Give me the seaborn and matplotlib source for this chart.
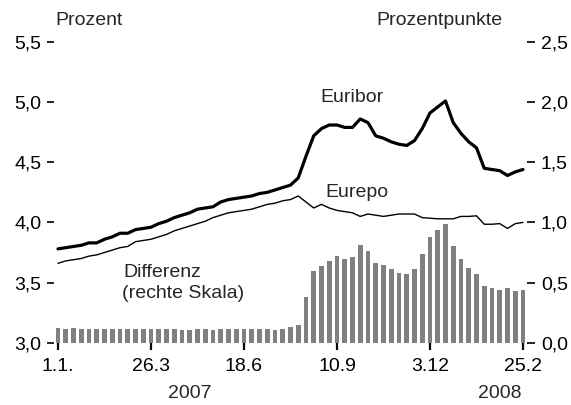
import matplotlib
matplotlib.use("Agg")
import matplotlib.pyplot as plt
import matplotlib.transforms as mtransforms
import pandas as pd
import seaborn as sns

# Weekly observations, 1 Jan 2007 to 25 Feb 2008 (week index 0..60)
weeks = list(range(61))

# Three-month Euribor, percent
euribor = [3.78, 3.79, 3.80, 3.81, 3.83, 3.83, 3.86, 3.88, 3.91, 3.91,
           3.94, 3.95, 3.96, 3.99, 4.01, 4.04, 4.06, 4.08, 4.11, 4.12,
           4.13, 4.17, 4.19, 4.20, 4.21, 4.22, 4.24, 4.25, 4.27, 4.29,
           4.31, 4.37, 4.55, 4.72, 4.78, 4.81, 4.81, 4.79, 4.79, 4.86,
           4.83, 4.72, 4.70, 4.67, 4.65, 4.64, 4.68, 4.78, 4.91, 4.96,
           5.01, 4.83, 4.74, 4.67, 4.62, 4.45, 4.44, 4.43, 4.39, 4.42,
           4.44]

# Three-month Eurepo, percent
eurepo = [3.66, 3.68, 3.69, 3.70, 3.72, 3.73, 3.75, 3.77, 3.79, 3.80,
          3.84, 3.85, 3.86, 3.88, 3.90, 3.93, 3.95, 3.97, 3.99, 4.01,
          4.04, 4.06, 4.08, 4.09, 4.10, 4.11, 4.13, 4.15, 4.16, 4.18,
          4.19, 4.22, 4.17, 4.12, 4.15, 4.12, 4.10, 4.09, 4.08, 4.05,
          4.07, 4.06, 4.05, 4.06, 4.07, 4.07, 4.07, 4.04, 4.035, 4.03,
          4.03, 4.03, 4.05, 4.05, 4.055, 3.985, 3.985, 3.99, 3.95, 3.99,
          4.00]

# Spread Euribor minus Eurepo, percentage points (right scale)
differenz = [0.12, 0.115, 0.125, 0.115, 0.115, 0.115, 0.115, 0.115, 0.115, 0.115,
             0.115, 0.115, 0.115, 0.115, 0.11, 0.115, 0.105, 0.105, 0.115, 0.115,
             0.105, 0.115, 0.115, 0.115, 0.115, 0.115, 0.115, 0.115, 0.105, 0.115,
             0.13, 0.15, 0.38, 0.60, 0.635, 0.68, 0.72, 0.70, 0.71, 0.81,
             0.76, 0.665, 0.65, 0.61, 0.58, 0.57, 0.61, 0.735, 0.875, 0.935,
             0.99, 0.80, 0.70, 0.625, 0.57, 0.47, 0.455, 0.435, 0.455, 0.43,
             0.435]

left_ticks = [3.0, 3.5, 4.0, 4.5, 5.0, 5.5]
left_labels = ["3,0", "3,5", "4,0", "4,5", "5,0", "5,5"]
right_ticks = [0.0, 0.5, 1.0, 1.5, 2.0, 2.5]
right_labels = ["0,0", "0,5", "1,0", "1,5", "2,0", "2,5"]
date_ticks = [0, 12, 24, 36, 48, 60]
date_labels = ["1.1.", "26.3", "18.6", "10.9", "3.12", "25.2"]
year_pos = [17, 57]
year_labels = ["2007", "2008"]

df = pd.DataFrame({"woche": weeks, "Euribor": euribor,
                   "Eurepo": eurepo, "Differenz": differenz})

sns.set_style("white")
plt.rcParams["font.family"] = ["Liberation Sans", "DejaVu Sans"]
FS = 14
plt.rcParams["font.size"] = FS

fig = plt.figure(figsize=(5.71, 4.05), dpi=100)
ax = fig.add_axes([0.0947, 0.1538, 0.828, 0.7425])
ax2 = ax.twinx()

# Spread bars on the right-hand scale
sns.barplot(data=df, x="woche", y="Differenz", native_scale=True,
            color="#808080", saturation=1, width=0.6, linewidth=0,
            edgecolor="none", ax=ax2)

# Interest rate lines on the left-hand scale
sns.lineplot(data=df, x="woche", y="Euribor", color="black", lw=2.3, ax=ax)
sns.lineplot(data=df, x="woche", y="Eurepo", color="black", lw=1.0, ax=ax)

ax.set_zorder(ax2.get_zorder() + 1)
ax.patch.set_visible(False)

ax.set_xlim(-0.5, 60.5)
ax.set_ylim(3.0, 5.5)
ax2.set_ylim(0.0, 2.5)

ax.set_yticks(left_ticks, left_labels)
ax2.set_yticks(right_ticks, right_labels)
ax.set_xticks(date_ticks, date_labels)

ax.set_xlabel("")
ax.set_ylabel("")
ax2.set_xlabel("")
ax2.set_ylabel("")

for a in (ax, ax2):
    for s in a.spines.values():
        s.set_visible(False)

ax.tick_params(axis="y", left=True, direction="out", length=5, width=1.2,
               pad=4, labelsize=FS, colors="black")
ax.tick_params(axis="x", bottom=True, direction="out", length=5, width=1.6,
               pad=6, labelsize=FS, colors="black")
ax2.tick_params(axis="y", right=True, direction="out", length=6, width=1.2,
                pad=4, labelsize=FS, colors="black")
ax2.tick_params(axis="x", bottom=False, labelbottom=False)

# Year captions below the date labels
trans = mtransforms.blended_transform_factory(ax.transData, ax.transAxes)
for pos, lab in zip(year_pos, year_labels):
    ax.text(pos, -0.168, lab, transform=trans, ha="center", va="center",
            fontsize=FS)

# Series labels
ax.text(33.8, 5.004, "Euribor", ha="left", va="baseline", fontsize=FS)
ax.text(34.5, 4.215, "Eurepo", ha="left", va="baseline", fontsize=FS)
ax.text(8.4, 3.548, "Differenz", ha="left", va="baseline", fontsize=FS)
ax.text(8.2, 3.374, "(rechte Skala)", ha="left", va="baseline", fontsize=FS)

# Unit captions above the axes
fig.text(55 / 571, (405 - 25) / 405, "Prozent", ha="left", va="baseline",
         fontsize=FS)
fig.text(503 / 571, (405 - 25) / 405, "Prozentpunkte", ha="right",
         va="baseline", fontsize=FS)

fig.savefig("out.png", dpi=100, facecolor="white")
